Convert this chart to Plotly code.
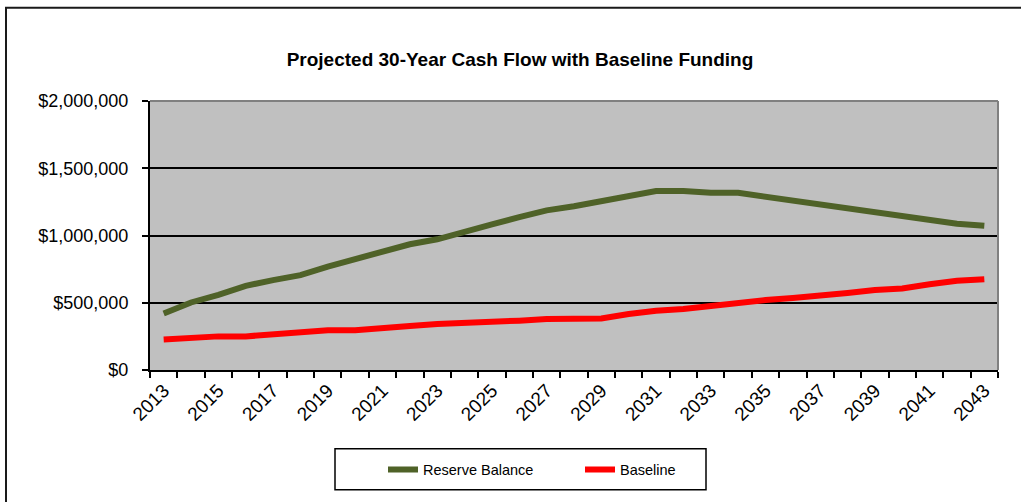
import plotly.graph_objects as go

years = list(range(2013, 2044))
reserve_balance = [420000, 502000, 559000, 626000, 668000, 705000, 769000, 823000, 885000, 935000,
                   972000, 1033000, 1083000, 1137000, 1187000, 1218000, 1255000, 1292000, 1330000, 1330000,
                   1317000, 1317000, 1288000, 1260000, 1231000, 1199000, 1177000, 1150000, 1112000, 1088000,
                   1073000]
baseline = [226000, 243000, 250000, 250000, 265000, 287000, 295000, 295000, 315000, 327000,
            342000, 350000, 350000, 367000, 379000, 383000, 383000, 416000, 441000, 453000,
            478000, 495000, 520000, 535000, 559000, 572000, 594000, 606000, 638000, 663000,
            675000]

FONT = "Arial, 'Liberation Sans', sans-serif"

# plot area geometry in px
L, R, T, B = 150, 998, 101, 369.5
W, H = R - L, B - T
def px(x):
    return (x - L) / W
def py(y):
    return (B - y) / H

fig = go.Figure()
fig.add_trace(go.Scatter(x=years, y=reserve_balance, mode="lines", name="Reserve Balance",
                         line=dict(color="#4F6228", width=6)))
fig.add_trace(go.Scatter(x=years, y=baseline, mode="lines", name="Baseline",
                         line=dict(color="#FF0000", width=6)))

fig.update_layout(
    width=1021, height=502,
    margin=dict(l=L, r=1021 - R, t=T, b=round(502 - B)),
    paper_bgcolor="white", plot_bgcolor="#C0C0C0",
    font=dict(family=FONT, color="black"),
    title=dict(text="<b>Projected 30-Year Cash Flow with Baseline Funding</b>",
               font=dict(family=FONT, size=19, color="black"),
               x=520 / 1021, xanchor="center", xref="container",
               y=1 - 59 / 502, yanchor="middle", yref="container"),
    showlegend=True,
    legend=dict(orientation="h", x=px(383), xanchor="left", y=py(469), yanchor="middle",
                bgcolor="rgba(0,0,0,0)", borderwidth=0, font=dict(family=FONT, size=14.5),
                entrywidth=152, itemwidth=30),
)

fig.update_xaxes(
    range=[2012.5, 2043.5], tick0=2013, dtick=2, tickformat="d", tickangle=-45,
    ticks="", showgrid=False, zeroline=False,
    showline=True, linecolor="black", linewidth=2,
    tickfont=dict(family=FONT, size=19),
    minor=dict(tick0=2012.5, dtick=1, ticks="outside", ticklen=6, tickcolor="black",
               tickwidth=1.5, showgrid=False),
)
fig.update_yaxes(
    range=[0, 2000000], dtick=500000, tickformat="$,.0f",
    ticks="outside", ticklen=6, tickcolor="black", tickwidth=1.5,
    showgrid=True, gridcolor="black", gridwidth=1.5, zeroline=False,
    showline=True, linecolor="black", linewidth=2,
    tickfont=dict(family=FONT, size=18), ticklabelstandoff=10,
)

shapes = [
    # top and right edges of plot area (gray)
    dict(type="line", xref="paper", yref="paper", x0=0, x1=1, y0=1, y1=1,
         line=dict(color="#808080", width=2), layer="above"),
    dict(type="line", xref="paper", yref="paper", x0=1, x1=1, y0=0, y1=1,
         line=dict(color="#808080", width=2), layer="above"),
    # legend box
    dict(type="rect", xref="paper", yref="paper", x0=px(335), x1=px(706), y0=py(489), y1=py(448),
         line=dict(color="black", width=1.5), fillcolor="white", layer="below"),
    # outer chart border
    dict(type="rect", xref="paper", yref="paper", x0=px(6), x1=px(1030), y0=py(515), y1=py(8),
         line=dict(color="#1a1a1a", width=2), fillcolor="rgba(0,0,0,0)", layer="above"),
]
fig.update_layout(shapes=shapes)

fig.write_html("out.html")
